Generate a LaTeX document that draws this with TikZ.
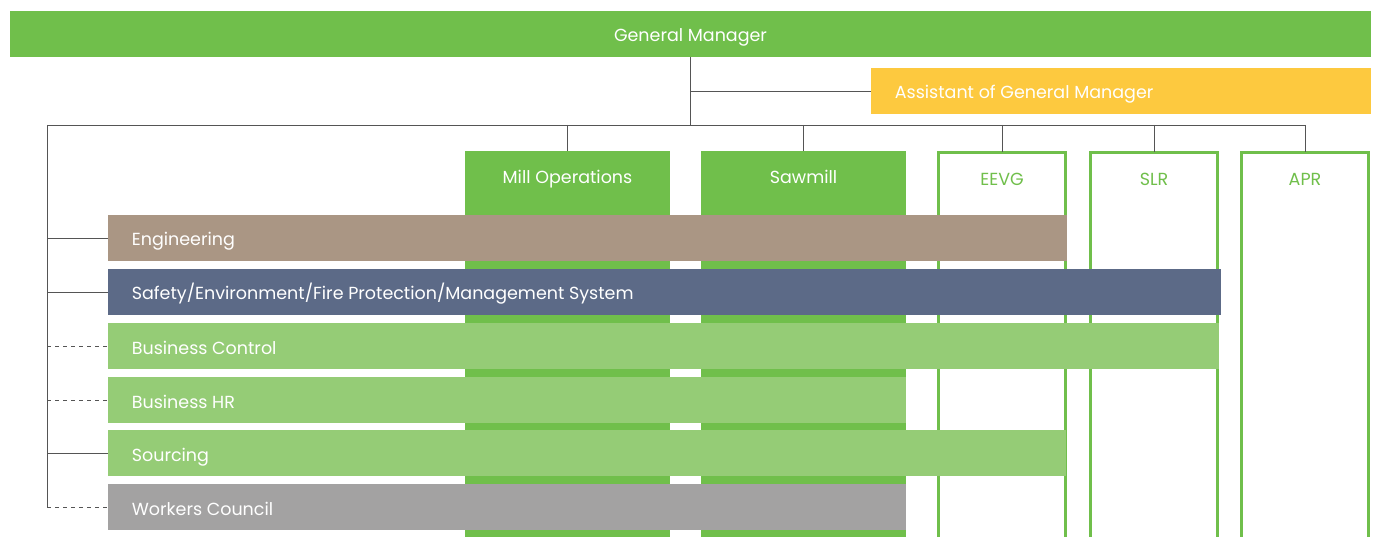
\documentclass[tikz,border=0pt]{standalone}
\usepackage{fontspec}
\setmainfont{Poppins}
\usepackage{tikz}

\definecolor{gmgreen}{HTML}{70BF4B}
\definecolor{lightgreen}{HTML}{95CC76}
\definecolor{taupe}{HTML}{AA9684}
\definecolor{slate}{HTML}{5C6A87}
\definecolor{stone}{HTML}{A3A2A2}
\definecolor{amber}{HTML}{FDC93F}
\definecolor{wire}{HTML}{555555}

\begin{document}
\begin{tikzpicture}[x=1pt, y=-1pt, line width=1pt,
    txt/.style={font=\fontsize{17.5}{20}\selectfont, text height=16pt, text depth=0pt},
    box/.style={rectangle, inner sep=0pt, outer sep=0pt, anchor=north west},
    bar/.style={box, minimum height=46pt, minimum width=#1},
    bartext/.style={txt, text=white, anchor=west, xshift=20pt},
    column/.style={box, minimum width=205pt, minimum height=400pt, fill=gmgreen},
    hollow/.style={box, minimum width=127pt, minimum height=400pt, draw=gmgreen, line width=3pt, fill=white},
    coltext/.style={txt, anchor=center, yshift=-25pt},
    link/.style={draw=wire, line width=0.8pt},
    dotted link/.style={link, dash pattern=on 4pt off 4pt}]
    \useasboundingbox (0,0) rectangle (1379,537);
    \clip (0,0) rectangle (1379,537);

    % draw general manager and assistant
    \node[box, fill=gmgreen, minimum width=1361pt, minimum height=46pt, txt, text=white] (gm) at (10,11) {General Manager};
    \node[bar=500pt, fill=amber, label={[bartext]west:Assistant of General Manager}] (asst) at (871,68) {};

    % draw columns
    \node[column, label={[coltext, text=white]north:Mill Operations}] (mill) at (465,151) {};
    \node[column, label={[coltext, text=white]north:Sawmill}] (saw) at (701,151) {};
    \node[hollow, label={[coltext, text=gmgreen]north:EEVG}] (eevg) at (938.5,152.5) {};
    \node[hollow, label={[coltext, text=gmgreen]north:SLR}] (slr) at (1090.5,152.5) {};
    \node[hollow, label={[coltext, text=gmgreen]north:APR}] (apr) at (1241.5,152.5) {};

    % draw staff bars
    \node[bar=959pt, fill=taupe, label={[bartext]west:Engineering}] (eng) at (108,215) {};
    \node[bar=1113pt, fill=slate, label={[bartext]west:Safety/Environment/Fire Protection/Management System}] (safe) at (108,269) {};
    \node[bar=1111pt, fill=lightgreen, label={[bartext]west:Business Control}] (ctrl) at (108,323) {};
    \node[bar=798pt, fill=lightgreen, label={[bartext]west:Business HR}] (hr) at (108,377) {};
    \node[bar=958pt, fill=lightgreen, label={[bartext]west:Sourcing}] (src) at (108,430) {};
    \node[bar=798pt, fill=stone, label={[bartext]west:Workers Council}] (wc) at (108,484) {};

    % draw tree lines
    \coordinate (bus) at (47,125);
    \draw[link] (gm.south) |- (asst.west);
    \draw[link] (gm.south) -- (gm.south |- bus);
    \draw[link] (bus) -- (apr.north |- bus);
    \foreach \col in {mill, saw, eevg, slr, apr}
        \draw[link] (\col.north |- bus) -- (\col.north);
    \draw[link] (bus) -- (bus |- wc.west);
    \foreach \unit in {eng, safe, src}
        \draw[link] (bus |- \unit.west) -- (\unit.west);
    \foreach \unit in {ctrl, hr, wc}
        \draw[dotted link] (bus |- \unit.west) -- (\unit.west);

\end{tikzpicture}
\end{document}
